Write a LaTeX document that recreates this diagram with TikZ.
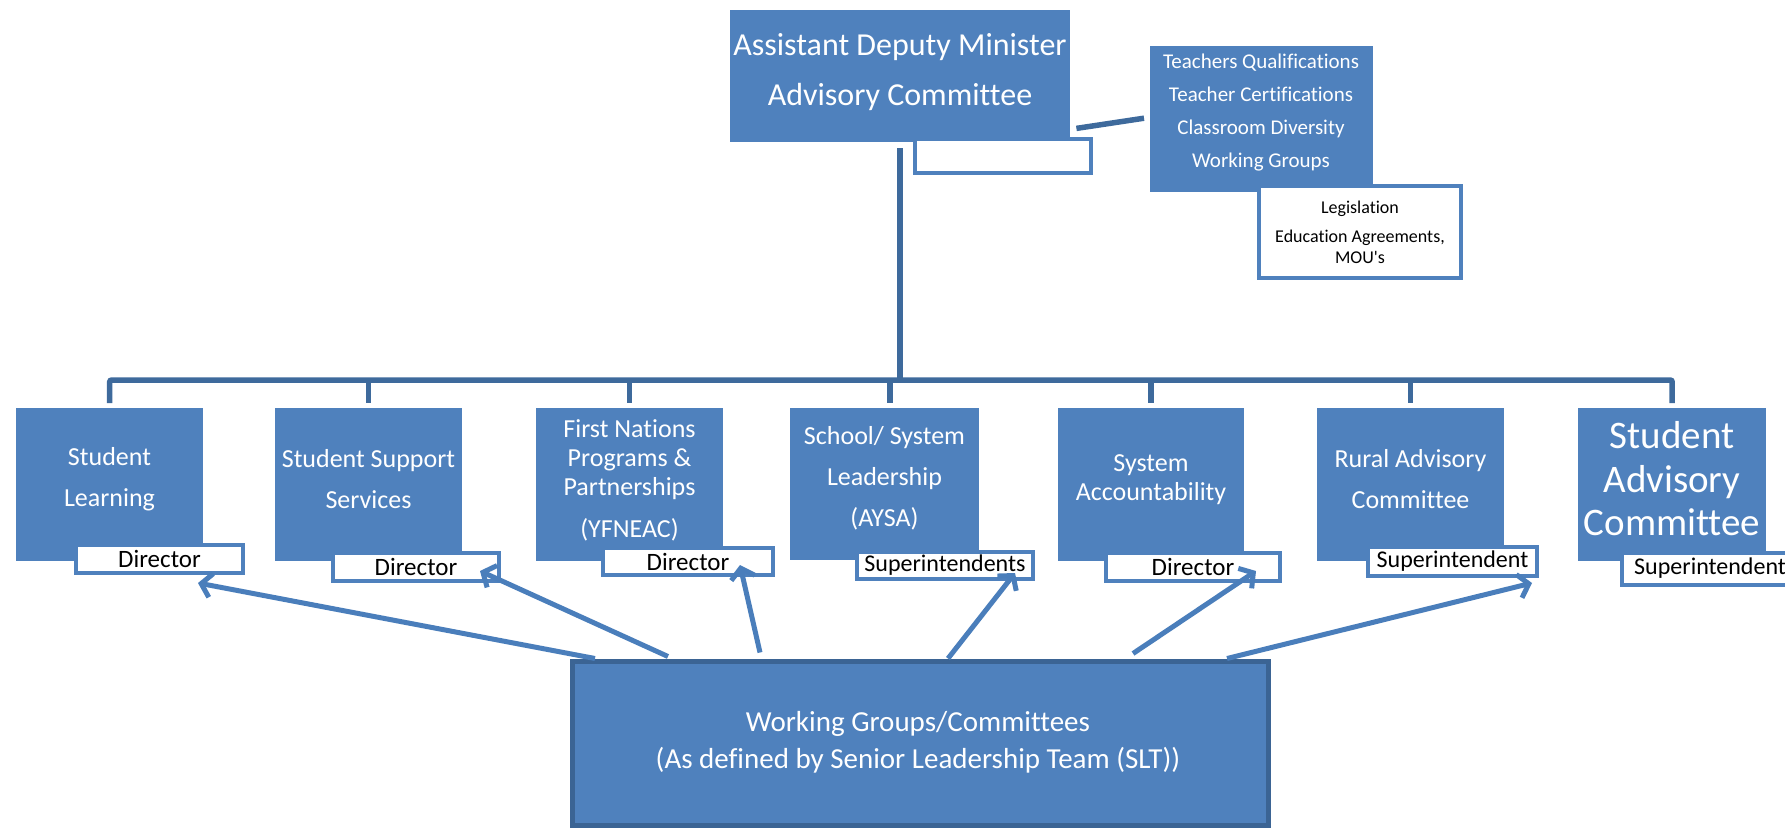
\documentclass[tikz,border=0pt]{standalone}
\usepackage{fontspec}
\setmainfont{Carlito}[Ligatures={NoCommon}]
\usetikzlibrary{arrows.meta,calc}
\definecolor{boxblue}{HTML}{4F81BD}
\definecolor{linedark}{HTML}{3E6A9C}
\definecolor{wgborder}{HTML}{3B6494}
\definecolor{arrowblue}{HTML}{4A7EBB}
\tikzset{
  blk/.style={fill=boxblue, draw=none, inner sep=0pt, anchor=north west},
  boxtxt/.style={text=white, align=center, inner sep=0pt, font=\fontsize{26}{29}\selectfont},
  wbox/.style={fill=white, draw=boxblue, line width=4pt, inner sep=0pt, font=\fontsize{25}{28}\selectfont},
  bus/.style={draw=linedark, line width=5.5pt},
  conn/.style={draw=arrowblue, line width=5pt, -{Straight Barb[length=10pt,width=24pt]}},
}
\begin{document}
\begin{tikzpicture}[x=1pt,y=-1pt]
\useasboundingbox (0,0) rectangle (1785,827);
\clip (0,0) rectangle (1785,827);
% top boxes
\node[blk, minimum width=340pt, minimum height=132pt] (adm) at (730,10) {};
\node[boxtxt, font=\fontsize{32}{50}\selectfont] (admt) at (900,72) {Assistant Deputy Minister\\Advisory Committee};
\node[wbox, minimum width=176pt, minimum height=34pt] (admw) at (1003,156) {};
\node[blk, minimum width=223pt, minimum height=146pt] (teach) at (1150,46) {};
\node[boxtxt, font=\fontsize{21}{33}\selectfont] (teacht) at (1261,113) {Teachers Qualifications\\Teacher Certifications\\Classroom Diversity\\Working Groups};
\node[wbox, minimum width=202pt, minimum height=92pt, align=center, font=\fontsize{18}{21}\selectfont] (legis) at (1360,232) {Legislation\\[8pt]Education Agreements,\\MOU\textquotesingle s};
% level boxes
\node[blk, minimum width=187pt, minimum height=153pt] (b1) at (16,408) {};
\node[blk, minimum width=187pt, minimum height=153pt] (b2) at (275,408) {};
\node[blk, minimum width=187pt, minimum height=153pt] (b3) at (536,408) {};
\node[blk, minimum width=189pt, minimum height=152pt] (b4) at (790,408) {};
\node[blk, minimum width=186pt, minimum height=153pt] (b5) at (1058,408) {};
\node[blk, minimum width=187pt, minimum height=153pt] (b6) at (1317,408) {};
\node[blk, minimum width=188pt, minimum height=153pt] (b7) at (1578,408) {};
\node[boxtxt] (t1) at (109.5,479) {Student\\[12pt]Learning};
\node[boxtxt] (t2) at (368.5,479) {Student Support\\[12pt]Services};
\node[boxtxt] (t3) at (629.5,480) {First Nations\\Programs \&\\Partnerships\\[13pt](YFNEAC)};
\node[boxtxt] (t4) at (884.5,478) {School/ System\\[12pt]Leadership\\[12pt](AYSA)};
\node[boxtxt] (t5) at (1151,480) {System\\Accountability};
\node[boxtxt] (t6) at (1410.5,479) {Rural Advisory\\[12pt]Committee};
\node[boxtxt, font=\fontsize{39}{43.5}\selectfont] (t7) at (1672,479) {Student\\Advisory\\Committee};
% white title boxes
\node[wbox, minimum width=167pt, minimum height=28pt] (d1) at (159.5,559) {Director};
\node[wbox, minimum width=166pt, minimum height=28pt] (d2) at (416,567) {Director};
\node[wbox, minimum width=170pt, minimum height=27pt] (d3) at (688,561.5) {Director};
\node[wbox, minimum width=176pt, minimum height=27pt, font=\fontsize{24}{27}\selectfont] (d4) at (945,565.5) {Superintendents};
\node[wbox, minimum width=174pt, minimum height=28pt] (d5) at (1193,567) {Director};
\node[wbox, minimum width=169pt, minimum height=29pt, font=\fontsize{24}{27}\selectfont] (d6) at (1452.5,561.5) {Superintendent};
\node[wbox, minimum width=181pt, minimum height=32pt] (d7) at (1712,569) {};
\node[anchor=west, inner sep=0pt, font=\fontsize{24}{27}\selectfont] (d7t) at (1634,568) {Superintendent};
% bottom box
\node[fill=boxblue, draw=wgborder, line width=5pt, inner sep=0pt, anchor=north west,
      minimum width=696pt, minimum height=164pt] (wg) at (569.5,658.5) {};
\node[boxtxt, font=\fontsize{29}{37}\selectfont] (wgt) at (918,742) {Working Groups/Committees\\(As defined by Senior Leadership Team (SLT))};
% hierarchy lines
\coordinate (bus) at (0,380);
\draw[bus] ([yshift=-6pt]adm.south) -- (adm.south |- bus);
\draw[bus, rounded corners=2pt] ([yshift=5pt]b1.north) |- (bus -| b7.north) -- ([yshift=5pt]b7.north);
\foreach \b in {b2,b3,b5,b6} {
  \draw[bus] (bus -| \b.north) -- ([yshift=5pt]\b.north);
}
\draw[bus] (bus -| 890,0) -- (890,403);
\draw[bus] ($(adm.south east)+(6,-14)$) -- ($(teach.west)+(-6,-1)$);
% arrows
\coordinate (p1) at (198,583);
\coordinate (p2) at (480,571);
\coordinate (p3) at (740,565);
\coordinate (p4) at (1015,573);
\coordinate (p5) at (1256,571);
\coordinate (p6) at (1532,583);
\draw[conn] ($(wg.north west)+(25.5,0)$) -- (p1);
\draw[conn] ($(wg.north west)+(98.5,-2)$) -- (p2);
\draw[conn] ($(wg.north west)+(190.5,-6)$) -- (p3);
\draw[conn] ($(wg.north west)+(378.5,0)$) -- (p4);
\draw[conn] ($(wg.north west)+(563.5,-5)$) -- (p5);
\draw[conn] ($(wg.north west)+(657.5,0)$) -- (p6);
\end{tikzpicture}
\end{document}
